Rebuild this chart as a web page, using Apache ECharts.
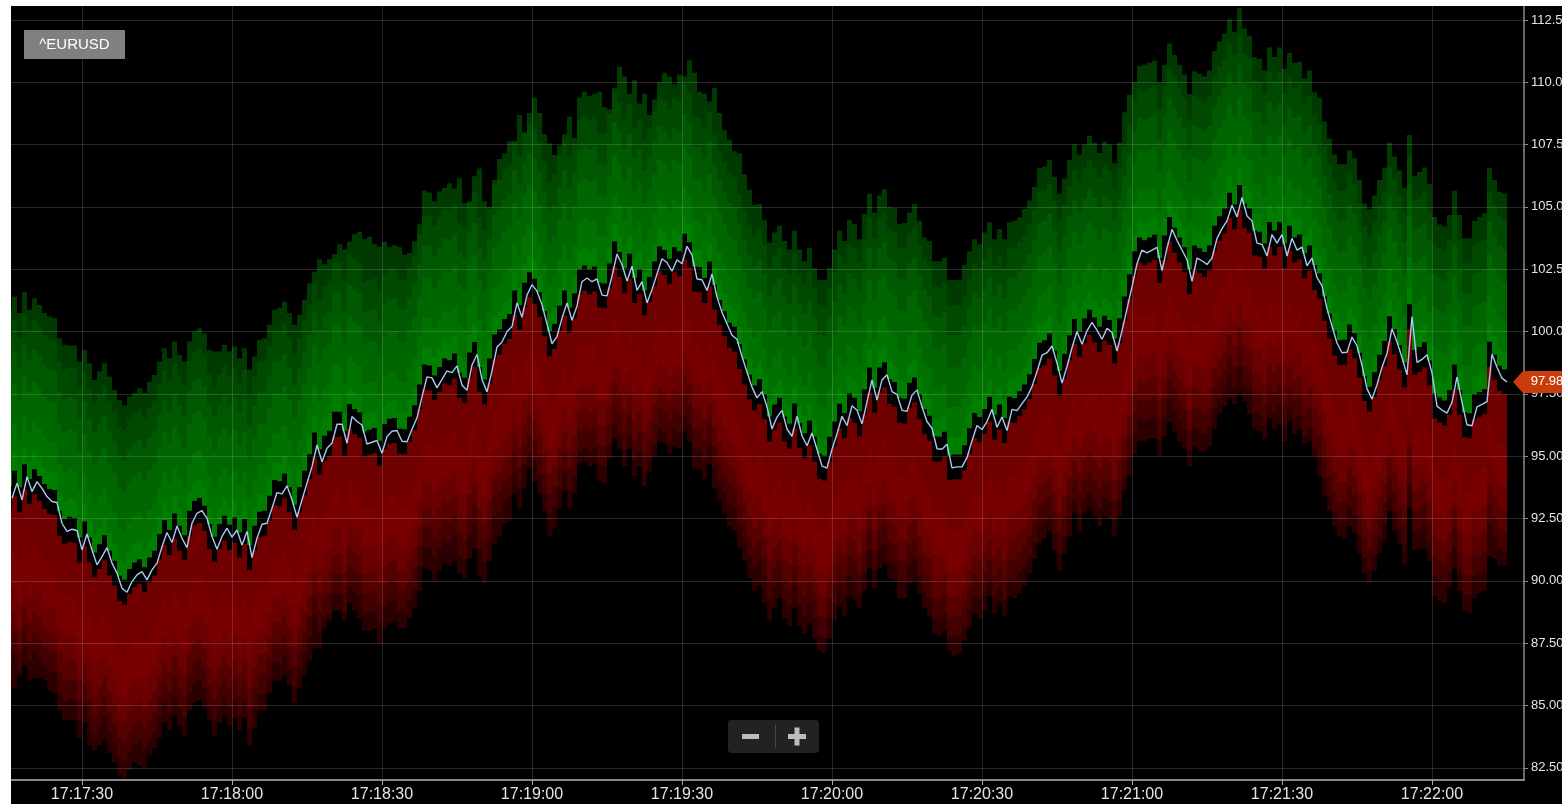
<!DOCTYPE html>
<html><head><meta charset="utf-8">
<style>html,body{margin:0;padding:0;background:#fff;overflow:hidden}
#c{position:absolute;left:11px;top:6px;width:1551px;height:798px;background:#000;filter:blur(0.7px)}</style>
<script src="https://cdn.jsdelivr.net/npm/echarts@6/dist/echarts.min.js"></script>
</head><body><div id="c"></div>
<script>
const symbolName='^EURUSD';
const lastPrice=97.98;
const timeLabels=['17:17:30','17:18:00','17:18:30','17:19:00','17:19:30','17:20:00','17:20:30','17:21:00','17:21:30','17:22:00'];
const priceTicks=[82.5,85,87.5,90,92.5,95,97.5,100,102.5,105,107.5,110,112.5];
const firstSecond=62236; // 17:17:16, time of the first sample; one sample per second
const midPrice=[93.31,93.92,93.25,94.18,93.58,93.98,93.71,93.38,93.18,93.14,92.31,91.98,92.07,92.02,91.24,91.88,91.24,90.64,90.97,91.33,90.71,90.31,89.70,89.54,89.97,90.24,90.37,90.04,90.44,90.71,91.37,91.94,91.54,92.20,91.71,91.33,92.31,92.71,92.82,92.51,91.78,91.27,91.78,92.11,91.75,92.04,91.44,91.98,90.93,91.71,92.27,92.31,92.91,93.54,93.49,93.81,93.25,92.55,93.25,93.92,94.58,95.45,94.78,95.32,95.52,96.28,96.28,95.52,96.59,96.39,96.25,95.49,95.56,95.63,95.12,95.79,
96.0,96.03,95.6,95.58,96.08,96.54,97.38,98.18,98.14,97.74,98.08,98.42,98.35,98.62,97.85,97.65,98.66,99.08,98.08,97.58,98.42,99.38,99.58,100.0,100.2,101.15,100.57,101.46,101.88,101.62,101.08,100.31,99.51,99.8,100.54,101.15,100.45,101.03,102.0,102.15,102.0,102.11,101.46,101.43,102.23,103.11,102.69,102.03,102.62,101.65,102.0,101.15,101.69,102.31,102.92,102.77,102.42,102.88,102.72,103.42,103.08,102.11,102.08,101.65,102.31,101.38,100.77,100.31,99.85,99.69,99.0,98.38,97.77,97.34,
97.59,96.98,96.09,96.57,96.84,96.09,95.8,96.61,95.82,95.42,95.93,95.28,94.6,94.52,95.28,95.89,96.6,96.23,97.02,96.84,96.3,97.18,98.06,97.25,98.06,98.27,97.59,97.48,96.84,96.8,97.45,97.66,96.98,96.39,96.12,95.3,95.28,95.48,94.53,94.57,94.57,94.94,95.62,96.23,96.07,96.39,96.88,96.16,96.57,96.03,96.88,96.83,97.11,97.38,97.79,98.4,99.05,99.15,99.42,98.74,97.93,98.6,99.35,100.0,99.49,100.03,100.37,100.06,99.69,100.13,99.96,99.22,100.03,100.91,101.8,
102.72,103.27,103.16,103.27,103.38,102.45,103.35,104.1,103.66,103.27,102.88,102.01,102.95,102.84,102.69,102.95,103.74,104.13,104.44,105.07,104.6,105.38,104.64,104.44,103.55,103.5,103.03,103.89,103.55,103.89,103.03,103.74,103.27,103.39,102.64,102.95,102.17,101.83,100.92,100.22,99.54,99.15,99.17,99.78,99.43,98.65,97.71,97.29,97.87,98.57,99.12,100.11,99.59,98.96,98.26,100.6,98.76,98.88,99.07,98.34,97.01,96.85,96.73,97.16,98.18,97.16,96.26,96.22,96.98,97.08,97.19,99.09,98.57,98.13,97.98];
const upperEdge=[100.9,101.4,100.74,101.58,100.87,101.34,101.07,100.74,100.6,100.53,99.73,99.47,99.44,99.44,98.8,99.26,98.73,98.06,98.4,98.73,98.2,97.66,97.26,97.03,97.39,97.53,97.73,97.53,97.99,98.26,98.8,99.33,98.93,99.6,99.06,98.8,99.6,100,100.13,99.93,99.26,99.2,99.2,99.47,99.2,99.4,98.93,99.33,98.46,99,99.67,99.73,100.27,100.87,100.94,101.2,100.74,100.27,100.67,101.27,101.94,102.4,102.9,102.7,102.9,103.1,103.5,103.3,103.6,103.9,104.0,103.7,103.8,103.5,103.4,103.6,
103.38,103.46,103.38,103.08,103.15,103.62,104.3,105.65,105.58,105.23,105.62,105.77,105.95,105.74,106.15,105.15,105.23,106.23,106.54,105.23,105.0,106.08,106.92,107.15,107.62,107.62,108.69,108.0,108.77,109.38,108.77,107.92,107.54,107.08,107.46,107.92,108.62,107.77,109.38,109.62,109.46,109.54,109.62,109.0,108.92,109.77,110.62,110.23,109.54,110.08,109.15,109.54,108.69,109.31,110.0,110.38,110.23,109.92,110.31,110.23,110.88,110.38,109.62,109.54,109.23,109.77,108.77,108.08,107.69,107.23,107.15,106.31,105.69,105.08,105.12,
104.49,103.56,103.97,104.24,103.63,103.29,104.04,103.29,102.82,103.36,102.54,102.07,102.07,102.54,103.29,104.04,103.63,104.49,104.31,103.7,104.72,105.53,104.78,105.46,105.71,104.99,104.95,104.31,104.35,104.78,105.12,104.45,103.77,103.63,102.82,102.82,102.95,102.07,102.07,102.07,102.68,103.22,103.7,103.5,103.97,104.38,103.7,104.11,103.7,104.38,104.45,104.58,104.92,105.26,105.8,106.55,106.62,106.89,106.21,105.53,106.14,106.89,107.5,107.09,107.5,107.84,107.57,107.16,107.61,107.5,106.75,107.57,108.8,109.5,110.0,
110.65,110.7,110.78,110.86,110,110.7,111.56,111.09,110.7,110.31,109.53,110.43,110.34,110.23,110.47,111.25,111.64,111.95,112.53,112.03,112.97,112.16,111.87,111.01,110.94,110.47,111.4,111.01,111.4,110.54,111.17,110.78,110.81,110.15,110.47,109.6,109.37,108.43,107.73,107.1,106.71,106.71,107.26,106.95,106.08,105.14,104.91,105.46,106.08,106.55,107.57,107.02,106.47,105.77,107.88,106.24,106.4,106.58,105.93,104.6,104.29,104.21,104.68,105.65,104.68,103.74,103.74,104.44,104.6,104.75,106.55,106.08,105.61,105.54];
const lowerEdge=[85.9,85.7,86.2,86.6,86.0,86.1,86.1,86.0,85.6,85.5,84.8,84.4,84.4,84.4,83.7,84.3,83.4,83.2,83.4,83.6,83.1,82.7,82.2,82.1,82.4,82.7,82.6,82.5,83.0,83.3,83.7,84.3,84.0,84.6,84.2,83.8,84.8,85.1,85.2,84.9,84.4,83.8,84.3,84.6,84.2,84.5,84.0,84.5,83.4,84.1,84.8,84.8,85.5,86.0,86.0,86.2,85.8,85.1,85.7,86.2,86.8,87.3,87.3,88.1,88.4,88.8,88.8,88.4,89.1,88.8,88.5,88.0,88.0,88.1,87.5,88.1,
88.3,88.4,88.1,88.1,88.5,88.9,89.6,90.5,90.4,90.0,90.4,90.7,90.6,90.8,90.3,90.1,90.9,91.3,90.2,89.9,90.8,91.5,91.8,92.3,92.4,93.5,92.9,93.7,94.5,94.0,93.5,92.8,91.8,92.1,92.9,93.6,92.9,93.5,94.7,94.8,94.6,94.7,94.0,93.9,94.9,95.7,95.3,94.6,95.3,94.2,94.6,93.8,94.4,95.0,95.6,95.5,95.1,95.4,95.3,96.0,95.6,94.5,94.5,94.1,94.7,93.7,93.2,92.7,92.2,92.0,91.3,90.8,90.1,89.6,89.8,
89.1,88.4,88.9,89.3,88.5,88.2,88.9,88.2,87.9,88.3,87.7,87.2,87.1,87.7,88.4,89.0,88.6,89.4,89.2,88.9,89.6,90.5,89.7,90.5,90.7,90.1,90.0,89.3,89.3,89.9,90.0,89.5,88.9,88.6,87.9,87.8,88.0,87.2,87.0,87.1,87.6,88.1,88.7,88.5,88.8,89.4,88.7,89.1,88.6,89.4,89.3,89.5,89.8,90.3,90.9,91.5,91.7,92.0,91.2,90.4,91.1,91.8,92.7,92.0,92.7,92.9,92.6,92.2,92.6,92.5,91.8,92.6,93.6,94.2,95.1,
95.6,95.6,95.7,95.7,95.0,95.8,96.4,96.0,95.6,95.3,94.6,95.4,95.2,95.2,95.4,96.1,96.7,97.0,97.3,97.1,97.5,97.2,96.7,96.1,96.0,95.7,96.5,96.1,96.3,95.6,96.4,95.9,96.1,95.5,95.6,95.0,94.2,93.4,92.8,92.2,91.8,91.7,92.2,91.9,91.1,90.3,89.9,90.4,91.1,91.6,92.8,92.0,91.5,90.7,92.9,91.2,91.3,91.3,90.8,89.4,89.2,89.1,89.7,90.5,89.6,88.8,88.7,89.3,89.5,89.6,91.0,90.9,90.6,90.6];
const askLadder=[6.5,5.3,4.0,2.4,1.2,0.5];
const askColors=['#003a00','#004a00','#005800','#006600','#007200','#007e00','#000000'];
const bidLadder=[0.5,2.6,4.2,5.2,6.0,6.8];
const bidColors=['#700000','#780000','#6a0000','#560000','#420000','#2c0000'];

const xAxisMin=62220;
const toSec=l=>{const p=l.split(':').map(Number);return p[0]*3600+p[1]*60+p[2]};
const xTicks=timeLabels.map(toSec);
const fmtTime=s=>{const p=n=>String(n).padStart(2,'0');return p(Math.floor(s/3600))+':'+p(Math.floor(s%3600/60))+':'+p(Math.floor(s%60))};
const secs=midPrice.map((_,i)=>firstSecond+i);
const barRow=vals=>vals.map((v,i)=>[secs[i]-0.5,v]);
const barSeries=(name,color,vals)=>({name,type:'bar',data:barRow(vals),barWidth:5,barGap:'-100%',
  itemStyle:{color},silent:true,animation:false,z:2,legendHoverLink:false});
const series=[];
series.push(barSeries('ask0',askColors[0],upperEdge));
askLadder.forEach((o,k)=>series.push(barSeries('ask'+(k+1),askColors[k+1],midPrice.map((m,i)=>Math.min(upperEdge[i],m+o)))));
bidLadder.forEach((o,k)=>series.push(barSeries('bid'+k,bidColors[k],midPrice.map((m,i)=>Math.max(lowerEdge[i],m-o)))));
series.push(barSeries('floor','#000000',lowerEdge));
series.push({name:'price',type:'line',data:midPrice.map((m,i)=>[secs[i],m]),symbol:'none',z:12,animation:false,silent:true,
  lineStyle:{color:'#a9c9ee',width:1.4},
  markPoint:{z:20,silent:true,animation:false,symbol:'path://M0 11 L10 0 L50 0 L50 22 L10 22 Z',symbolSize:[50,22],symbolOffset:[14,0],
    itemStyle:{color:'#c93d0c'},
    label:{show:true,position:'inside',offset:[9,0],color:'#fff',fontSize:13,fontFamily:'Liberation Sans',formatter:()=>lastPrice.toFixed(2)},
    data:[{coord:[62538.4,lastPrice],value:lastPrice}]}});

const chart=echarts.init(document.getElementById('c'),null,{renderer:'canvas'});
chart.setOption({
  animation:false,backgroundColor:'#000',
  grid:{left:-79,right:38,top:0,bottom:24,containLabel:false,outerBoundsMode:'none'},
  xAxis:{type:'value',min:xAxisMin,max:62538.4,z:10,
    axisLine:{show:true,lineStyle:{color:'#b4b4b4',width:1.5}},
    axisTick:{show:true,length:5,lineStyle:{color:'#a8a8a8'},customValues:xTicks},
    axisLabel:{customValues:xTicks,formatter:fmtTime,color:'#e4e4e4',fontSize:16,margin:7,fontFamily:'Liberation Sans'},
    splitLine:{show:true,lineStyle:{color:'rgba(255,255,255,0.15)',width:1}}},
  yAxis:{type:'value',position:'right',min:82.01,max:113.06,z:10,scale:true,
    axisLine:{show:true,lineStyle:{color:'#8a8a8a',width:1.5}},
    axisTick:{show:true,length:4,lineStyle:{color:'#8a8a8a'},customValues:priceTicks},
    axisLabel:{customValues:priceTicks,formatter:v=>v.toFixed(2),color:'#e4e4e4',fontSize:13,margin:7,fontFamily:'Liberation Sans'},
    splitLine:{show:true,lineStyle:{color:'rgba(255,255,255,0.15)',width:1}}},
  series,
  graphic:[
    {type:'rect',z:100,shape:{x:13,y:24,width:101,height:29},style:{fill:'#808080'}},
    {type:'text',z:101,x:63.5,y:38.5,style:{text:symbolName,fill:'#fff',font:'15px "Liberation Sans"',align:'center',verticalAlign:'middle'}},
    {type:'rect',z:100,shape:{x:717,y:714,width:91,height:33,r:4},style:{fill:'#222222'}},
    {type:'rect',z:101,shape:{x:731,y:728,width:17,height:5},style:{fill:'#bdbdbd'}},
    {type:'rect',z:101,shape:{x:764,y:719,width:1,height:23},style:{fill:'#4a4a4a'}},
    {type:'rect',z:101,shape:{x:777,y:728,width:18,height:5},style:{fill:'#bdbdbd'}},
    {type:'rect',z:101,shape:{x:783.5,y:721.5,width:5,height:18},style:{fill:'#bdbdbd'}}
  ]
});
</script></body></html>
